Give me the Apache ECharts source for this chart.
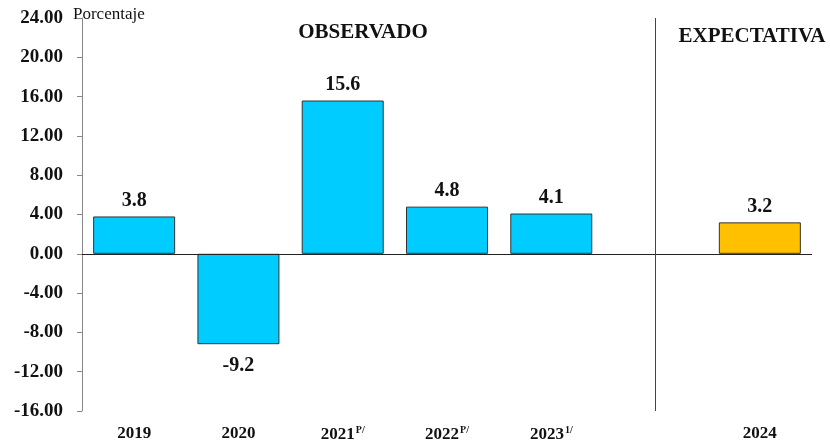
<!DOCTYPE html>
<html lang="es">
<head>
    <meta charset="UTF-8">
    <title>Crecimiento</title>
    <script src="https://cdn.jsdelivr.net/npm/echarts@6/dist/echarts.min.js"></script>
    <style>
        html, body { margin: 0; padding: 0; background: #fff; }
        #chart { width: 830px; height: 445px; }
    </style>
</head>
<body>
<div id="chart"></div>
<script>
    // datos
    var years = ['2019', '2020', '2021', '2022', '2023', '', '2024'];
    var marks = ['', '', 'P/', 'P/', '1/', '', ''];
    var values = [3.8, -9.2, 15.6, 4.8, 4.1, '-', 3.2];
    var yTicks = [-16, -12, -8, -4, 0, 4, 8, 12, 16, 20, 24];

    var serif = '"Liberation Serif", "DejaVu Serif", serif';
    var cyan = '#00CCFF';
    var orange = '#FFC000';

    var chart = echarts.init(document.getElementById('chart'));
    chart.setOption({
        animation: false,
        grid: { left: 82, right: 18, top: 18, bottom: 34 },
        xAxis: {
            type: 'category',
            data: years,
            axisLine: { show: false, onZero: false },
            axisTick: { show: false },
            axisLabel: {
                margin: 14,
                interval: 0,
                formatter: function (v, i) {
                    return marks[i] ? '{y|' + v + '}{s|' + marks[i] + '}' : '{y|' + v + '}';
                },
                rich: {
                    y: { fontFamily: serif, fontWeight: 'bold', fontSize: 17, color: '#111' },
                    s: { fontFamily: serif, fontWeight: 'bold', fontSize: 10, color: '#111', verticalAlign: 'top', padding: [0, 0, 9, 1] }
                }
            }
        },
        yAxis: {
            type: 'value',
            min: yTicks[0],
            max: yTicks[yTicks.length - 1],
            interval: 4,
            splitLine: { show: false },
            axisLine: { show: true, lineStyle: { color: '#888' } },
            axisTick: { show: true, length: 5, lineStyle: { color: '#888' } },
            axisLabel: {
                margin: 19,
                fontFamily: serif, fontWeight: 'bold', fontSize: 19, color: '#111',
                formatter: function (v) { return v.toFixed(2); }
            }
        },
        graphic: [
            { type: 'text', left: 73, top: 6, style: { text: 'Porcentaje', font: '17px ' + serif, fill: '#111' } },
            { type: 'text', x: 363, y: 22, style: { text: 'OBSERVADO', font: 'bold 21px ' + serif, fill: '#111', textAlign: 'center' } },
            { type: 'text', x: 752, y: 26, style: { text: 'EXPECTATIVA', font: 'bold 21px ' + serif, fill: '#111', textAlign: 'center' } }
        ],
        series: [{
            type: 'bar',
            data: values.map(function (v) {
                return (typeof v === 'number' && v < 0) ? { value: v, label: { position: 'bottom', distance: 12 } } : v;
            }),
            barWidth: 82,
            itemStyle: {
                color: function (p) { return p.name === '2024' ? orange : cyan; },
                borderColor: '#333',
                borderWidth: 1
            },
            label: {
                show: true,
                position: 'top',
                distance: 6,
                fontFamily: serif, fontWeight: 'bold', fontSize: 20, color: '#111',
                formatter: function (p) { return p.value.toFixed(1); }
            },
            markLine: {
                silent: true,
                symbol: 'none',
                label: { show: false },
                data: [
                    { yAxis: 0, lineStyle: { color: '#222', width: 1.2, type: 'solid' } },
                    { xAxis: 5, lineStyle: { color: '#444', width: 1, type: 'solid' } }
                ]
            }
        }]
    });
</script>
</body>
</html>
